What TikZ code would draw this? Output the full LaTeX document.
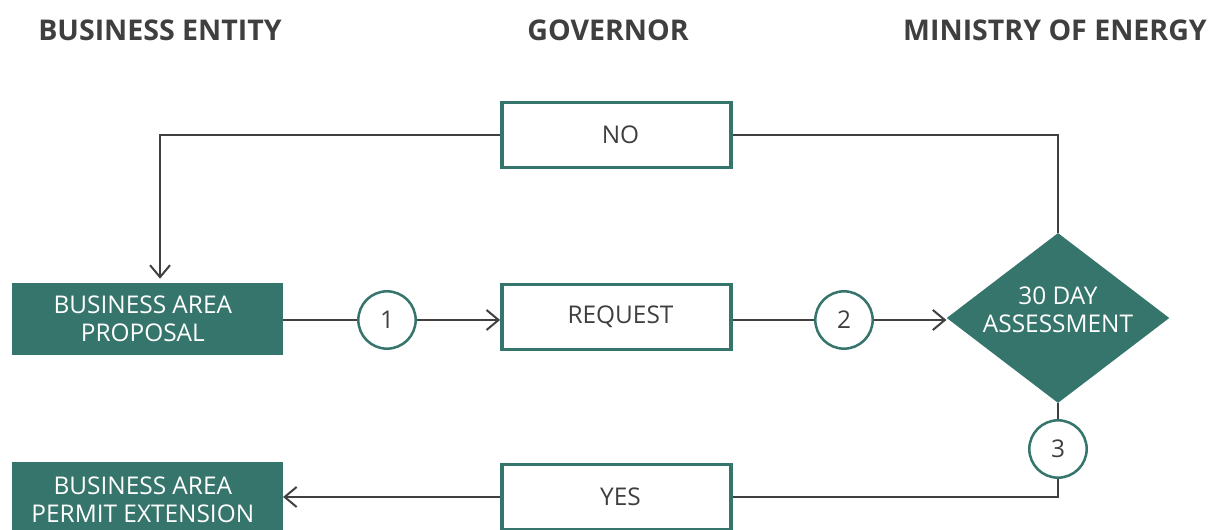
\documentclass[tikz,border=0pt]{standalone}
\usepackage{fontspec}
\setmainfont{Open Sans}
\usetikzlibrary{shapes.geometric,arrows.meta}
\definecolor{boxteal}{HTML}{35756B}
\definecolor{linegray}{HTML}{404040}
\definecolor{txtgray}{HTML}{3F3F3F}
\begin{document}
\begin{tikzpicture}[x=0.75pt,y=-0.75pt,
    font=\fontsize{18.3}{21}\selectfont, text=txtgray,
    filled/.style={fill=boxteal, text=white, minimum width=203pt, minimum height=54pt, align=center, inner sep=0pt},
    plain/.style={draw=boxteal, line width=2.6pt, fill=white, minimum width=172pt, minimum height=48.5pt},
    num/.style={circle, draw=boxteal, line width=1.9pt, minimum size=43pt, inner sep=0pt},
    head/.style={font=\fontsize{21.4}{25}\selectfont\bfseries},
    link/.style={draw=linegray, line width=1.5pt},
    >={Straight Barb[length=9pt,width=15pt]}]
    \useasboundingbox (0,0) rectangle (1208,530);

    % column titles
    \node[head] (hbe) at (160,30) {BUSINESS ENTITY};
    \node[head] (hgov) at (608,30) {GOVERNOR};
    \node[head] (hmin) at (1055,30) {MINISTRY OF ENERGY};

    \node[filled] (prop) at (147.5,319) {BUSINESS AREA\hspace*{7pt}\\PROPOSAL\hspace*{7pt}};
    \node[filled, minimum height=57pt] (permit) at (147.5,500) {BUSINESS AREA\hspace*{7pt}\\PERMIT EXTENSION\hspace*{7pt}};

    \node[plain] (no) at (616.5,135) {\hspace{6pt}NO};
    \node[plain] (req) at (616.5,317) {\hspace{6pt}REQUEST};
    \node[plain] (yes) at (616.5,497) {\hspace{6pt}YES};

    \node[diamond, fill=boxteal, inner sep=0pt, minimum width=167pt, minimum height=127.5pt, aspect=1.31,
          label={[text=white, align=center, yshift=6pt]center:{30 DAY\\ASSESSMENT}}] (dia) at (1058,318) {};

    \node[num] (c1) at (387,320) {1};
    \node[num] (c2) at (844,320) {2};
    \node[num] (c3) at (1058,449) {3};

    \path[link] (prop.east |- c1) -- (c1.west);
    \path[link,->] (c1.east) -- (req.west |- c1);
    \path[link] (req.east |- c2) -- (c2.west);
    \path[link,->] (c2.east) -- (dia.west |- c2);
    \path[link] (dia.south) -- (c3.north);
    \path[link] (c3.south) |- (yes.east);
    \path[link,->] (yes.west) -- (permit.east |- yes);
    \path[link] (dia.north) |- (no.east);
    \path[link,->, shorten >=3pt] (no.west) -| ([xshift=9.4pt]prop.north);
\end{tikzpicture}
\end{document}
